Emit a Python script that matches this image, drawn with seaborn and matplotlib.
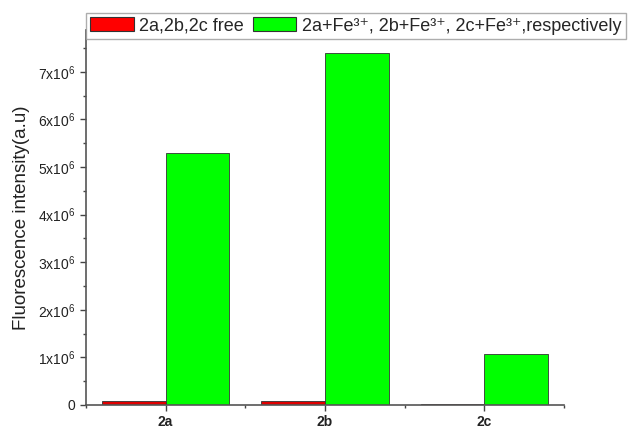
import matplotlib
matplotlib.use("Agg")
import matplotlib.pyplot as plt
import seaborn as sns
import pandas as pd
from matplotlib.ticker import MultipleLocator, FuncFormatter

samples = ["2a", "2b", "2c"]
free_values = [0.09e6, 0.08e6, 0.02e6]
fe_values = [5.29e6, 7.39e6, 1.07e6]
series_labels = ["2a,2b,2c free",
                 "2a+Fe³⁺, 2b+Fe³⁺, 2c+Fe³⁺,respectively"]
series_colors = ["#e00000", "#00ff00"]

df = pd.DataFrame({
    "sample": samples * 2,
    "intensity": free_values + fe_values,
    "series": [series_labels[0]] * 3 + [series_labels[1]] * 3,
})

sns.set_style("ticks")
plt.rcParams["font.family"] = ["Liberation Sans", "DejaVu Sans"]
plt.rcParams["mathtext.default"] = "regular"

fig = plt.figure(figsize=(6.41, 4.29), dpi=100)
ax = fig.add_axes([0.134, 0.056, 0.746, 0.874])

sns.barplot(data=df, x="sample", y="intensity", hue="series",
            palette=series_colors, saturation=1, width=0.8,
            edgecolor="#333333", linewidth=0.6, ax=ax, legend=True)

ax.set_xlim(-0.5, 2.5)
ax.set_ylim(0, 7.88e6)
ax.yaxis.set_major_locator(MultipleLocator(1e6))
ax.yaxis.set_minor_locator(MultipleLocator(0.5e6))
ax.xaxis.set_minor_locator(MultipleLocator(0.5))

def fmt(v, pos):
    n = int(round(v / 1e6))
    return "0" if n == 0 else f"{n}x10$^{{6}}$"

ax.yaxis.set_major_formatter(FuncFormatter(fmt))
ax.set_xlabel("")
ax.set_ylabel("Fluorescence intensity(a.u)", fontsize=13.5, color="#222222",
              labelpad=6)
ax.tick_params(axis="both", which="major", direction="out", length=4,
               width=1, colors="#444444", labelcolor="#222222", labelsize=10)
ax.tick_params(axis="both", which="minor", direction="out", length=2.5,
               width=1, colors="#444444")
for lab in ax.get_xticklabels():
    lab.set_fontweight("bold")
for s in ["top", "right"]:
    ax.spines[s].set_visible(False)
for s in ["left", "bottom"]:
    ax.spines[s].set_color("#555555")
    ax.spines[s].set_linewidth(1.2)

handles, labels = ax.get_legend_handles_labels()
handles[0].set_facecolor("#ff0000")
for h in handles:
    h.set_linewidth(0.8)
ax.legend_.remove()
fig.legend(handles, labels, loc="upper left", bbox_to_anchor=(0.134, 0.97),
           ncol=2, frameon=True, fancybox=False, edgecolor="#999999",
           fontsize=13, handlelength=2.4, handleheight=0.8,
           columnspacing=0.5, handletextpad=0.3, borderpad=0.25,
           borderaxespad=0)

fig.savefig("out.png", dpi=100)
